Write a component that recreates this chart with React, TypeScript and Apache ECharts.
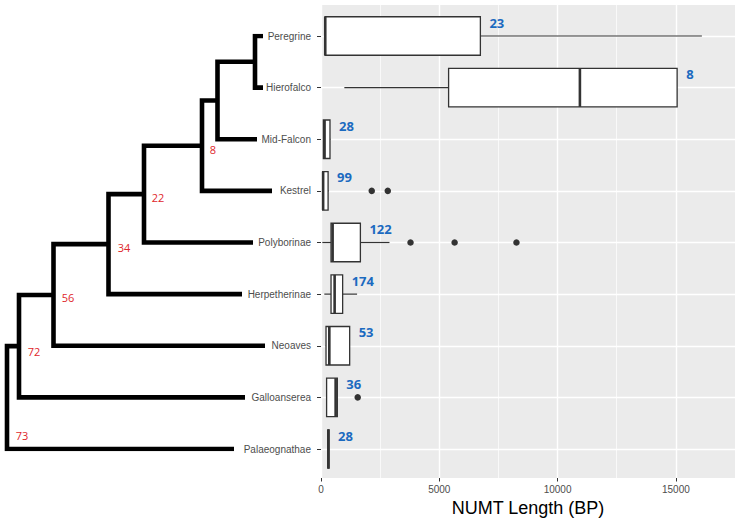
import React, { useEffect, useRef } from 'react';
import * as echarts from 'echarts';

// ---- data ----
const categories = ['Peregrine', 'Hierofalco', 'Mid-Falcon', 'Kestrel', 'Polyborinae', 'Herpetherinae', 'Neoaves', 'Galloanserea', 'Palaeognathae'];
const boxMin = [160, 987, 90, 50, 55, 140, 200, 237, 280];
const boxQ1 = [170, 5394, 100, 70, 424, 424, 212, 237, 290];
const boxMedian = [180, 10944, 150, 90, 491, 576, 352, 619, 310];
const boxQ3 = [6737, 15054, 380, 300, 1665, 915, 1212, 690, 340];
const boxMax = [16100, 15054, 400, 330, 2894, 1525, 1212, 690, 350];
const counts = [23, 8, 28, 99, 122, 174, 53, 36, 28];
const outlierValues = [2144, 2822, 3784, 5648, 8262, 1551];
const outlierCats = [3, 3, 4, 4, 4, 7];
const xTicks = [0, 5000, 10000, 15000];

// tree: leaves are categories 0..8, internal nodes 9..16
const leafTipDepth = [263, 263, 257, 272, 253, 242, 265, 245, 234];
const nodeChildA = [0, 9, 10, 11, 12, 13, 14, 15];
const nodeChildB = [1, 2, 3, 4, 5, 6, 7, 8];
const nodeDepth = [255, 217.5, 202, 144, 108.5, 53.5, 19, 7];
const nodeLabels = ['8', '22', '34', '56', '72', '73'];
const nodeLabelX = [213, 158, 124, 68, 34, 22];
const nodeLabelY = [2.19, 3.12, 4.09, 5.06, 6.12, 7.73];

const FONT = 'Liberation Sans, Arial, sans-serif';

function buildTree() {
  const px: number[] = [...leafTipDepth];
  const py: number[] = categories.map((_, i) => i);
  nodeDepth.forEach((d, k) => {
    px.push(d);
    py.push((py[nodeChildA[k]] + py[nodeChildB[k]]) / 2);
  });
  return nodeDepth.map((d, k) => {
    const a = nodeChildA[k];
    const b = nodeChildB[k];
    return {
      coords: [
        [px[a], py[a]],
        [d, py[a]],
        [d, py[b]],
        [px[b], py[b]],
      ],
    };
  });
}

export default function App() {
  const ref = useRef<HTMLDivElement>(null);
  useEffect(() => {
    if (!ref.current) return;
    const chart = echarts.init(ref.current, undefined, { renderer: 'svg' });
    const boxH = 38.5;
    const option: any = {
      animation: false,
      textStyle: { fontFamily: FONT },
      grid: [
        { left: 321, right: 5, top: 5, bottom: 46, show: true, backgroundColor: '#EBEBEB', borderWidth: 0 },
        { left: 321, right: 5, top: 36, bottom: 75 },
        { left: 0, width: 320, top: 36, bottom: 75 },
      ],
      xAxis: [
        {
          gridIndex: 0, type: 'value', position: 'bottom', min: 0, max: 17500, interval: 2500,
          axisLine: { show: false }, axisTick: { show: false }, axisLabel: { show: false },
          splitLine: { show: true, lineStyle: { color: '#FFFFFF', width: 0.7 } },
        },
        {
          gridIndex: 0, type: 'value', position: 'bottom', min: 0, max: 17500, interval: 5000,
          axisLine: { show: false, onZero: false },
          axisTick: { show: true, length: 3.5, customValues: xTicks, lineStyle: { color: '#333333', width: 1 } },
          axisLabel: {
            customValues: xTicks, color: '#4D4D4D', fontSize: 10, margin: 6, fontFamily: FONT,
            formatter: (v: number) => (v % 5000 === 0 ? String(v) : ''),
          },
          splitLine: { show: true, lineStyle: { color: '#FFFFFF', width: 1.4 } },
          name: 'NUMT Length (BP)', nameLocation: 'middle', nameGap: 21,
          nameTextStyle: { fontSize: 18, color: '#000000', fontFamily: FONT },
        },
        { gridIndex: 1, type: 'value', min: 0, max: 17500, show: false },
        { gridIndex: 2, type: 'value', min: 0, max: 320, show: false },
      ],
      yAxis: [
        { gridIndex: 0, type: 'value', min: 0, max: 1, show: false },
        {
          gridIndex: 1, type: 'category', data: categories, inverse: true, boundaryGap: false,
          axisLine: { show: false },
          axisTick: { show: true, length: 4, interval: 0, lineStyle: { color: '#333333', width: 1 } },
          axisLabel: { interval: 0, color: '#4D4D4D', fontSize: 10, margin: 10, fontFamily: FONT },
          splitLine: { show: true, interval: 0, lineStyle: { color: '#FFFFFF', width: 1.4 } },
        },
        { gridIndex: 2, type: 'value', min: 0, max: 8, inverse: true, show: false },
      ],
      series: [
        {
          type: 'lines', coordinateSystem: 'cartesian2d', xAxisIndex: 3, yAxisIndex: 2,
          polyline: true, silent: true, data: buildTree(),
          lineStyle: { color: '#000000', width: 4.6, opacity: 1, join: 'miter', cap: 'butt' },
        },
        {
          type: 'scatter', xAxisIndex: 3, yAxisIndex: 2, symbolSize: 0, silent: true,
          itemStyle: { opacity: 1 },
          data: nodeLabelX.map((x, i) => [x, nodeLabelY[i], nodeLabels[i]]),
          label: {
            show: true, position: 'inside', formatter: (p: any) => p.value[2],
            color: '#E0262B', fontSize: 11, fontFamily: 'Open Sans',
          },
        },
        {
          type: 'custom', xAxisIndex: 2, yAxisIndex: 1, silent: true,
          data: categories.map((_, i) => [i, boxMin[i], boxQ1[i], boxMedian[i], boxQ3[i], boxMax[i]]),
          encode: { x: [1, 2, 3, 4, 5], y: 0 },
          renderItem: (params: any, api: any) => {
            const c = api.value(0);
            const pMin = api.coord([api.value(1), c]);
            const pQ1 = api.coord([api.value(2), c]);
            const pMed = api.coord([api.value(3), c]);
            const pQ3 = api.coord([api.value(4), c]);
            const pMax = api.coord([api.value(5), c]);
            const y = pQ1[1];
            const stroke = '#333333';
            return {
              type: 'group',
              children: [
                { type: 'line', shape: { x1: pMin[0], y1: y, x2: pQ1[0], y2: y }, style: { stroke, lineWidth: 1.2 } },
                { type: 'line', shape: { x1: pQ3[0], y1: y, x2: pMax[0], y2: y }, style: { stroke, lineWidth: 1.2 } },
                {
                  type: 'rect',
                  shape: { x: pQ1[0], y: y - boxH / 2, width: Math.max(pQ3[0] - pQ1[0], 0.5), height: boxH },
                  style: { fill: '#FFFFFF', stroke, lineWidth: 1.3 },
                },
                {
                  type: 'line',
                  shape: { x1: pMed[0], y1: y - boxH / 2, x2: pMed[0], y2: y + boxH / 2 },
                  style: { stroke, lineWidth: 2.6 },
                },
              ],
            };
          },
        },
        {
          type: 'scatter', xAxisIndex: 2, yAxisIndex: 1, symbolSize: 6.5, silent: true,
          itemStyle: { color: '#333333', opacity: 1 },
          data: outlierValues.map((v, i) => [v, outlierCats[i]]),
        },
        {
          type: 'scatter', xAxisIndex: 2, yAxisIndex: 1, symbolSize: 0, silent: true,
          itemStyle: { opacity: 1 },
          data: boxQ3.map((v, i) => [v, i, counts[i]]),
          label: {
            show: true, position: 'right', distance: 9, offset: [0, -13.5],
            formatter: (p: any) => String(p.value[2]),
            color: '#1B6AC0', fontWeight: 'bold', fontSize: 13, fontFamily: 'Open Sans',
          },
        },
      ],
    };
    chart.setOption(option);
    return () => chart.dispose();
  }, []);
  return (
    <div
      ref={ref}
      style={{ position: 'fixed', left: 0, top: 0, width: 740, height: 524, background: '#FFFFFF' }}
    />
  );
}
